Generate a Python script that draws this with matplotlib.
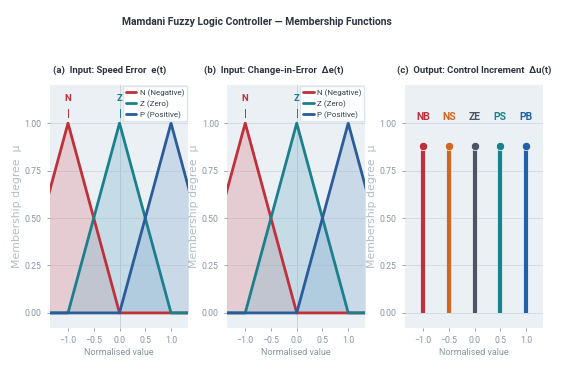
import matplotlib
matplotlib.use("Agg")
import matplotlib.pyplot as plt

plt.rcParams['font.family'] = ['Roboto', 'DejaVu Sans']

# input sets: vertices of the triangular membership functions (zero tails included)
in_names = ["N", "Z", "P"]
in_labels = ["N (Negative)", "Z (Zero)", "P (Positive)"]
in_x = [[-2, -1, 0, 2], [-2, -1, 0, 1, 2], [-2, 0, 1, 2]]
in_y = [[0, 1, 0, 0], [0, 0, 1, 0, 0], [0, 0, 1, 0]]
in_peaks = [-1, 0, 1]
in_colors = ["#c0303a", "#1b7f8c", "#2b5b98"]
in_fills = ["#d98a92", "#7fb8cf", "#8fb0d2"]

# output singletons
out_names = ["NB", "NS", "ZE", "PS", "PB"]
out_centers = [-1.0, -0.5, 0.0, 0.5, 1.0]
out_height = [0.88, 0.88, 0.88, 0.88, 0.88]
out_colors = ["#c0303a", "#d2671f", "#4b5563", "#17838c", "#2160a8"]

titles = ["(a)  Input: Speed Error  e(t)",
          "(b)  Input: Change-in-Error  \u0394e(t)",
          "(c)  Output: Control Increment  \u0394u(t)"]
title_x = [0.43, 0.34, 0.5]

bg = "#ebf0f5"
grey = "#8a96a3"

fig = plt.figure(figsize=(5.68, 3.72), dpi=100)
fig.suptitle("Mamdani Fuzzy Logic Controller \u2014 Membership Functions",
             fontsize=7.5, fontweight="bold", color="#2d3440", x=0.453, y=0.955)

lefts = [0.088, 0.400, 0.713]
axes = [fig.add_axes([l, 0.118, 0.243, 0.653]) for l in lefts]

for i, ax in enumerate(axes):
    ax.set_facecolor(bg)
    for s in ax.spines.values():
        s.set_visible(False)
    ax.set_xlim(-1.35, 1.33)
    ax.set_ylim(-0.08, 1.2)
    ax.set_xticks([-1.0, -0.5, 0.0, 0.5, 1.0])
    ax.set_yticks([0, 0.25, 0.5, 0.75, 1.0])
    ax.set_xticklabels(["\u22121.0", "\u22120.5", "0.0", "0.5", "1.0"])
    ax.set_yticklabels(["0.00", "0.25", "0.50", "0.75", "1.00"])
    ax.tick_params(labelsize=6.3, colors=grey, length=2.5, width=0.6)
    ax.grid(axis="y", color="#d5dbe3", linewidth=0.7)
    ax.set_axisbelow(True)
    ax.set_xlabel("Normalised value", fontsize=6.5, color=grey, labelpad=2)
    ax.set_ylabel("Membership degree  \u03bc", fontsize=7.8, color="#b2bcc6",
                  family=["DejaVu Sans"], labelpad=2)
    ax.set_title(titles[i], fontsize=6.8, fontweight="bold", color="#2d3440",
                 pad=9, x=title_x[i])

# input panels (the P tag sits under the legend, so only N and Z get one)
for ax in axes[:2]:
    ax.axvline(0, color="#c9d2dc", linewidth=0.7, zorder=0.5)
    lines = []
    for k in range(3):
        ax.fill_between(in_x[k], in_y[k], 0, color=in_fills[k], alpha=0.35, linewidth=0)
        ln, = ax.plot(in_x[k], in_y[k], color=in_colors[k], linewidth=2.0,
                      solid_capstyle="round", label=in_labels[k])
        lines.append(ln)
        if k < 2:
            ax.plot([in_peaks[k], in_peaks[k]], [1.035, 1.075], color=in_colors[k], linewidth=0.7)
            ax.text(in_peaks[k], 1.13, in_names[k], color=in_colors[k], fontsize=6.8,
                    fontweight="bold", ha="center", va="center")
    leg = ax.legend(handles=lines, loc="upper right", fontsize=5.8, frameon=True,
                    handlelength=1.3, handletextpad=0.4, borderpad=0.35,
                    labelspacing=0.4, borderaxespad=0.15, fancybox=False)
    leg.get_frame().set_facecolor("white")
    leg.get_frame().set_edgecolor("#dde3ea")
    leg.get_frame().set_alpha(0.95)
    leg.set_zorder(5)
    for t in leg.get_texts():
        t.set_color("#3a4250")

# output singletons
ax = axes[2]
for k in range(len(out_centers)):
    ax.vlines(out_centers[k], 0, out_height[k], color=out_colors[k], linewidth=3)
    ax.plot(out_centers[k], out_height[k], "o", color=out_colors[k], markersize=6,
            markeredgecolor="white", markeredgewidth=0.5)
    ax.text(out_centers[k], 1.03, out_names[k], color=out_colors[k], fontsize=7.5,
            fontweight="bold", ha="center", va="center")

plt.savefig("out.png", dpi=100, facecolor="white")
